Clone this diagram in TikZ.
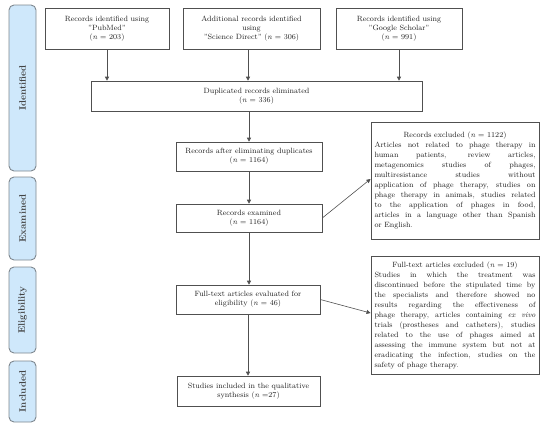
\documentclass[tikz,border=0pt]{standalone}
\usetikzlibrary{arrows.meta,calc}
\definecolor{sidefill}{HTML}{CFE8FB}
\definecolor{sidedraw}{HTML}{7E878F}
\definecolor{boxdraw}{HTML}{505050}
\definecolor{txt}{HTML}{202020}
\begin{document}
\begin{tikzpicture}[x=1pt,y=-1pt,
  side/.style={draw=sidedraw,fill=sidefill,line width=0.9pt,rounded corners=5pt,
    rotate=90,minimum height=27pt,inner sep=0pt,text=txt!85!white,
    font=\fontsize{9.5}{11}\selectfont\bfseries},
  mainbox/.style={draw=boxdraw,line width=0.6pt,align=center,inner sep=1pt,text=txt,
    font=\fontsize{7.6}{9}\selectfont},
  exbox/.style={draw=boxdraw,line width=0.9pt,align=justify,text width=161pt,
    minimum width=168pt,inner sep=3.5pt,text=txt,
    font=\fontsize{7.6}{10}\selectfont},
  arr/.style={-{Triangle[length=4pt,width=4pt]},line width=0.6pt,draw=boxdraw}]
\useasboundingbox (0,0) rectangle (550,432);
% sidebars
\node[side,minimum width=166pt] (sid) at (22.5,88) {Identified};
\node[side,minimum width=83pt] (sex) at (22.5,218.5) {Examined};
\node[side,minimum width=86pt] (sel) at (22.5,310) {Eligibility};
\node[side,minimum width=61pt] (sin) at (22.5,391.5) {Included};
% boxes
\node[mainbox,minimum width=124pt,minimum height=41pt] (b1) at (107,28.5)
  {Records identified using\\"PubMed"\\(\emph{n} = 203)};
\node[mainbox,minimum width=137pt,minimum height=41pt] (b2) at (251.5,28.5)
  {Additional records identified\\using\\"Science Direct" (\emph{n} = 306)};
\node[mainbox,minimum width=126pt,minimum height=41pt] (b3) at (399,28.5)
  {Records identified using\\"Google Scholar"\\(\emph{n} = 991)};
\node[mainbox,minimum width=331pt,minimum height=30pt] (dup) at (256.5,96)
  {Duplicated records eliminated\\(\emph{n} = 336)};
\node[mainbox,minimum width=146pt,minimum height=29pt] (aft) at (249,156.5)
  {Records after eliminating duplicates\\(\emph{n} = 1164)};
\node[mainbox,minimum width=146pt,minimum height=28pt] (exa) at (249,218)
  {Records examined\\(\emph{n} = 1164)};
\node[mainbox,minimum width=144pt,minimum height=29pt] (fte) at (248,299.5)
  {Full-text articles evaluated for\\eligibility (\emph{n} = 46)};
\node[mainbox,minimum width=143pt,minimum height=30pt] (inc) at (248.5,391)
  {Studies included in the qualitative\\synthesis (\emph{n} =27)};
\node[exbox,minimum height=117pt] (ex1) at (455,180.5)
  {\hspace*{\fill}Records excluded (\emph{n} = 1122)\hspace*{\fill}\linebreak
   Articles not related to phage therapy in\linebreak
   human patients, review articles,\linebreak
   metagenomics studies of phages,\linebreak
   multiresistance studies without\linebreak
   application of phage therapy, studies on\linebreak
   phage therapy in animals, studies related\linebreak
   to the application of phages in food,\linebreak
   articles in a language other than Spanish\linebreak
   or English.};
\node[exbox,minimum height=118pt] (ex2) at (455,315)
  {\hspace*{\fill}Full-text articles excluded (\emph{n} = 19)\hspace*{\fill}\linebreak
   Studies in which the treatment was\linebreak
   discontinued before the stipulated time by\linebreak
   the specialists and therefore showed no\linebreak
   results regarding the effectiveness of\linebreak
   phage therapy, articles containing \emph{ex vivo}\linebreak
   trials (prostheses and catheters), studies\linebreak
   related to the use of phages aimed at\linebreak
   assessing the immune system but not at\linebreak
   eradicating the infection, studies on the\linebreak
   safety of phage therapy.};
% arrows
\draw[arr] (b1.south) -- (b1.south |- dup.north);
\draw[arr] ([xshift=-3.5pt]b2.south) -- ([xshift=-3.5pt]b2.south |- dup.north);
\draw[arr] (b3.south) -- (b3.south |- dup.north);
\draw[arr] (dup.south -| aft.north) -- (aft.north);
\draw[arr] (aft.south) -- (aft.south |- exa.north);
\draw[arr] (exa.south) -- (exa.south |- fte.north);
\draw[arr] (fte.south) -- (fte.south |- inc.north);
\draw[arr] (exa.east) -- ([yshift=1.5pt]ex1.west);
\draw[arr] (fte.east) -- ([yshift=2pt]ex2.west);
\end{tikzpicture}
\end{document}
